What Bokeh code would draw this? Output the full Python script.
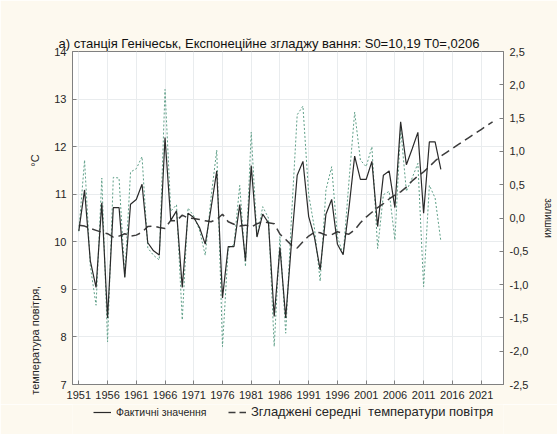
import math
from bokeh.plotting import figure
from bokeh.layouts import column
from bokeh.models import (Range1d, LinearAxis, FixedTicker, CustomJSTickFormatter,
                          Legend, LegendItem)
from bokeh.embed import file_html
from bokeh.resources import INLINE

# ---------------- data ----------------
years = list(range(1951, 2015))
actual = [10.23, 11.09, 9.60, 9.04, 10.82, 8.40, 10.72, 10.72, 9.25, 10.79,
          10.89, 11.21, 9.98, 9.81, 9.72, 12.19, 10.45, 10.65, 9.04, 10.60,
          10.51, 10.30, 9.95, 10.70, 11.49, 8.82, 9.90, 9.90, 10.78, 9.60,
          11.60, 10.10, 10.58, 10.40, 8.43, 9.88, 8.40, 9.97, 11.40, 11.69,
          10.53, 10.10, 9.41, 10.58, 10.89, 9.95, 9.73, 10.70, 11.80, 11.31,
          11.31, 11.69, 10.32, 11.40, 11.49, 10.72, 12.52, 11.62, 11.95, 12.30,
          10.60, 12.10, 12.10, 11.52]

years_smooth = list(range(1951, 2024))
smoothed = [10.35, 10.33, 10.28, 10.24, 10.20, 10.17, 10.10, 10.12, 10.17, 10.12,
            10.14, 10.20, 10.32, 10.33, 10.30, 10.28, 10.45, 10.44, 10.56, 10.50,
            10.49, 10.47, 10.44, 10.42, 10.47, 10.58, 10.42, 10.37, 10.33, 10.35,
            10.31, 10.38, 10.42, 10.40, 10.38, 10.16, 10.05, 9.93, 9.87, 10.00,
            10.12, 10.20, 10.19, 10.14, 10.15, 10.21, 10.18, 10.16, 10.25, 10.40,
            10.52, 10.62, 10.72, 10.80, 10.90, 10.98, 11.05, 11.15, 11.28, 11.38,
            11.47, 11.58, 11.70, 11.80, 11.88, 11.96, 12.04, 12.12, 12.20, 12.28,
            12.36, 12.44, 12.52]

residuals = [-0.20, 0.87, -0.72, -1.31, 0.60, -1.86, 0.61, 0.60, -0.88, 0.69,
             0.74, 0.92, -0.45, -0.56, -0.63, 1.93, 0.10, 0.20, -1.53, 0.15,
             0.03, -0.18, -0.56, 0.30, 1.02, -1.93, -0.45, -0.40, 0.49, -0.73,
             1.29, -0.28, 0.17, 0.00, -1.93, -0.28, -1.73, 0.00, 1.55, 1.68,
             0.35, -0.15, -0.95, 0.42, 0.77, -0.28, -0.55, 0.54, 1.59, 0.87,
             0.77, 1.07, -0.46, 0.35, 0.40, -0.33, 1.35, 0.40, 0.60, 0.82,
             -1.03, 0.49, 0.30, -0.35]

x_ticks = [1951, 1956, 1961, 1966, 1971, 1976, 1981, 1986, 1991, 1996,
           2001, 2006, 2011, 2016, 2021]
left_ticks = [7, 8, 9, 10, 11, 12, 13, 14]
right_ticks = [-2.5, -2.0, -1.5, -1.0, -0.5, 0.0, 0.5, 1.0, 1.5, 2.0, 2.5]

title_text = "а) станція Генічеськ, Експонеційне згладжу вання:  S0=10,19 T0=,0206"
left_label_main = "температура повітря,"
left_label_unit = "°С"
right_label = "залишки"
legend_actual = "Фактичні значення"
legend_smooth = "Згладжені середні  температури повітря"

# ---------------- styling ----------------
FONT = "Liberation Sans"
BG = "#fdf9ef"
AXIS_COL = "#808080"
TXT = "#262626"
GRID = "#e9ecee"
NB = "\u00a0"
COL_ACT = "#2a2a2a"
COL_SM = "#3c3c3c"
DASH_SM = "9 5"

p = figure(width=557, height=404, output_backend="svg", toolbar_location=None,
           x_range=Range1d(1949.9, 2024.9), y_range=Range1d(7, 14),
           min_border_left=72, min_border_right=50, min_border_top=51,
           min_border_bottom=20, background_fill_color="white",
           border_fill_color=BG, outline_line_color=AXIS_COL)

p.title.text = title_text
p.title.align = "left"
p.title.offset = -14
p.title.standoff = 2
p.title.text_font = FONT
p.title.text_font_size = "13px"
p.title.text_font_style = "normal"
p.title.text_color = "#111111"

p.extra_y_ranges = {"res": Range1d(-2.5, 2.5)}

xa = p.xaxis[0]
xa.ticker = FixedTicker(ticks=x_ticks)
ya = p.yaxis[0]
ya.ticker = FixedTicker(ticks=left_ticks)

ra = LinearAxis(y_range_name="res", ticker=FixedTicker(ticks=right_ticks),
                formatter=CustomJSTickFormatter(code="return tick.toFixed(1).replace('.', ',');"))
p.add_layout(ra, "right")

for ax in (xa, ya, ra):
    ax.axis_line_color = AXIS_COL
    ax.major_tick_line_color = AXIS_COL
    ax.major_tick_in = 4
    ax.major_tick_out = 0
    ax.minor_tick_line_color = None
    ax.major_label_text_font = FONT
    ax.major_label_text_color = TXT
    ax.major_label_text_font_size = "11px"
    ax.major_label_standoff = 6
    ax.axis_label_text_font = FONT
    ax.axis_label_text_font_style = "normal"
    ax.axis_label_text_color = TXT
    ax.axis_label_text_font_size = "11px"

# left axis label (bottom part "температура повітря,", unit higher up)
ya.axis_label = left_label_main + NB * 39 + left_label_unit + NB * 37
ya.axis_label_standoff = 10

ra.axis_label = right_label
ra.axis_label_text_font_size = "10px"
ra.axis_label_standoff = 12

p.xgrid.grid_line_color = GRID
p.ygrid.grid_line_color = GRID

# ---------------- series ----------------
p.line(years, residuals, y_range_name="res", color="#5f9f88", line_width=1,
       line_dash="2 2")
p.line(years_smooth, smoothed, color=COL_SM, line_width=1.5, line_dash=DASH_SM)
p.line(years, actual, color=COL_ACT, line_width=1.2)

# ---------------- legend strip (separate small figure below) ----------------
# its frame is aligned with the main frame (left edge at 72 px); the series
# drawn here lie outside its 0..1 ranges, so only their legend glyphs show
lf = figure(width=557, height=30, output_backend="svg", toolbar_location=None,
            x_range=Range1d(0, 1), y_range=Range1d(0, 1),
            x_axis_type=None, y_axis_type=None,
            min_border_left=0, min_border_right=0, min_border_top=0,
            min_border_bottom=0, background_fill_color=BG,
            border_fill_color=BG, outline_line_color=None)
lf.grid.visible = False
g_act = lf.line(years, actual, color=COL_ACT, line_width=1.2)
g_sm = lf.line(years_smooth, smoothed, color=COL_SM, line_width=1.5, line_dash="7 4")

leg1 = Legend(items=[LegendItem(label=legend_actual, renderers=[g_act])],
              location=(21, 16), label_text_font_size="10.5px")
leg2 = Legend(items=[LegendItem(label=legend_smooth, renderers=[g_sm])],
              location=(156, 15), label_text_font_size="13px")
for lg in (leg1, leg2):
    lg.background_fill_alpha = 0
    lg.border_line_color = None
    lg.padding = 0
    lg.margin = 0
    lg.glyph_width = 18
    lg.glyph_height = 12
    lg.label_height = 12
    lg.label_standoff = 5
    lg.label_text_font = FONT
    lg.label_text_color = TXT
    lf.add_layout(lg)

open("out.html", "w").write(file_html(column(p, lf, spacing=0), INLINE))
